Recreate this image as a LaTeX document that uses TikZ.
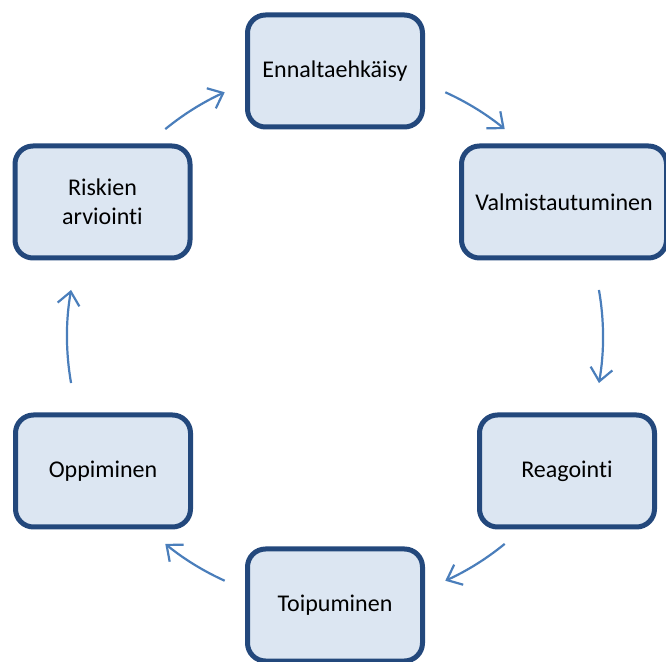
\documentclass[tikz,border=0pt]{standalone}
\usepackage{fontspec}
\setmainfont{Carlito}[RawFeature={-liga}]
\usetikzlibrary{arrows.meta}
\definecolor{boxfill}{RGB}{220,230,242}
\definecolor{boxline}{RGB}{35,72,124}
\definecolor{flowblue}{RGB}{74,126,187}
\begin{document}
\begin{tikzpicture}[x=1pt,y=1pt,
  stage/.style={draw=boxline, fill=boxfill, line width=5pt, rounded corners=18pt,
    minimum width=175pt, minimum height=112pt, align=center, inner sep=2pt,
    font=\fontsize{24}{29}\selectfont},
  flow/.style={draw=flowblue, line width=2.2pt,
    -{Straight Barb[length=13pt,width=22pt,line width=2.2pt]}}]
\useasboundingbox (0,0) rectangle (666,661);

% the six stages of the cycle
\node[stage] (enn) at (335,590) {Ennaltaehkäisy};
\node[stage, minimum width=205pt] (val) at (564,459) {Valmistautuminen};
\node[stage] (rea) at (567,190) {Reagointi};
\node[stage] (toi) at (335,56) {Toipuminen};
\node[stage] (opp) at (103,190) {Oppiminen};
\node[stage] (ris) at (102.5,459) {Riskien\\arviointi};

% curved arrows on a common circle around the centre
\coordinate (mid) at (335,324.5);
\path (mid) ++(65.7:268pt) coordinate (a1);
\path (mid) ++(10:268pt) coordinate (a2);
\path (mid) ++(-50.7:268pt) coordinate (a3);
\path (mid) ++(-114.3:268pt) coordinate (a4);
\path (mid) ++(190:268pt) coordinate (a5);
\path (mid) ++(129.3:268pt) coordinate (a6);

\draw[flow] (a1) arc[start angle=65.7, end angle=50.7, radius=268pt];
\draw[flow] (a2) arc[start angle=10, end angle=-10, radius=268pt];
\draw[flow] (a3) arc[start angle=-50.7, end angle=-65.7, radius=268pt];
\draw[flow] (a4) arc[start angle=-114.3, end angle=-129.3, radius=268pt];
\draw[flow] (a5) arc[start angle=190, end angle=170, radius=268pt];
\draw[flow] (a6) arc[start angle=129.3, end angle=114.3, radius=268pt];
\end{tikzpicture}
\end{document}
